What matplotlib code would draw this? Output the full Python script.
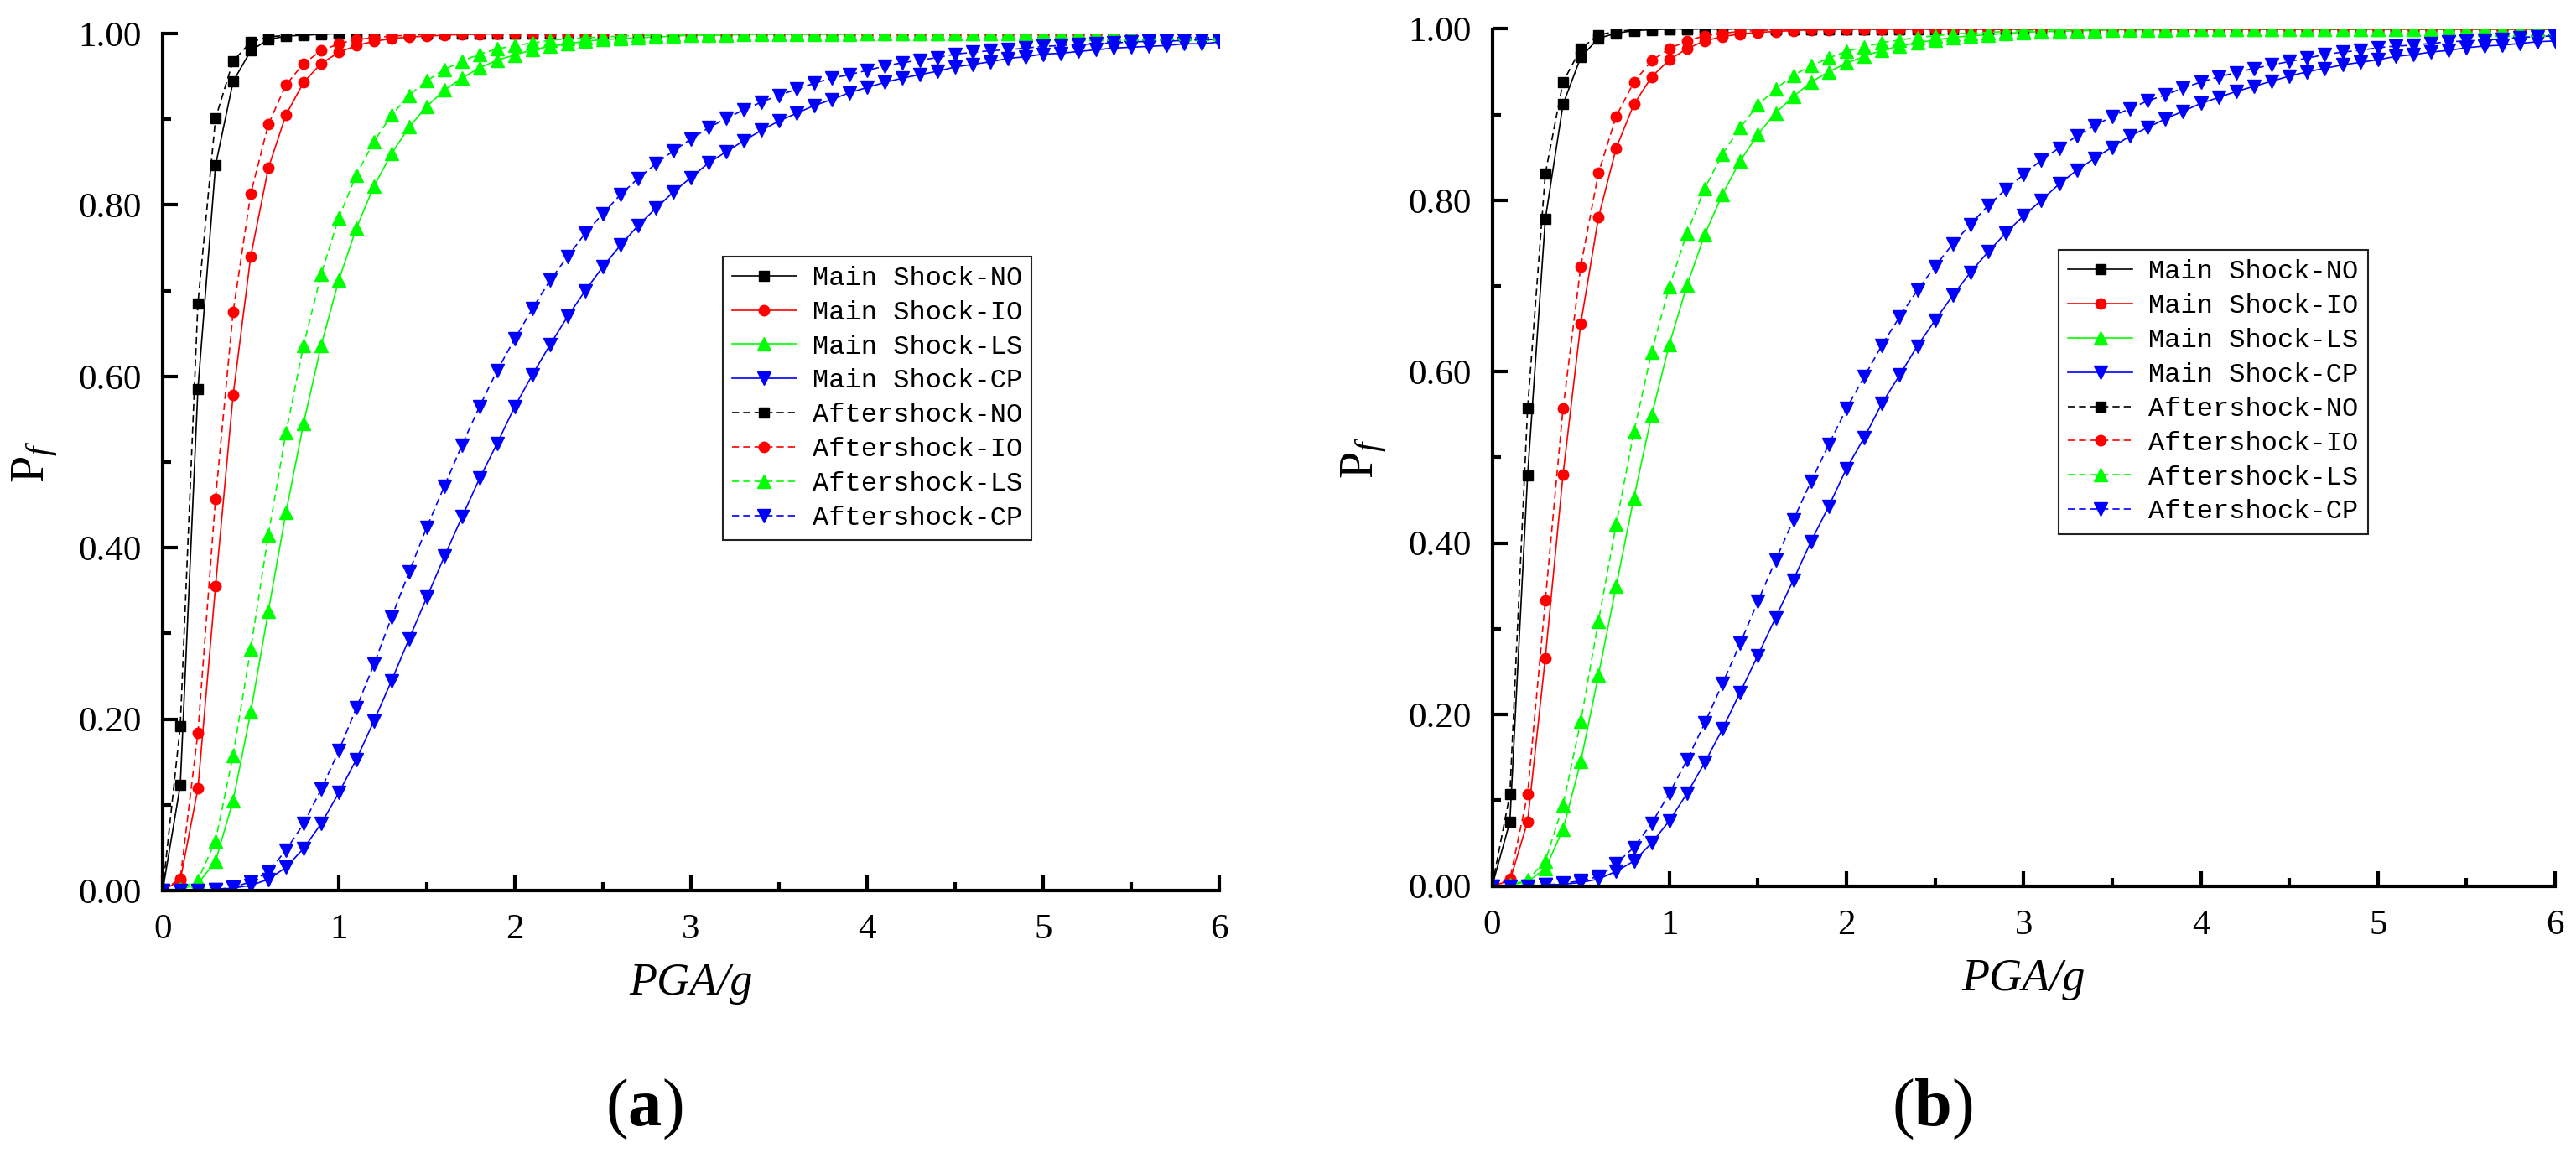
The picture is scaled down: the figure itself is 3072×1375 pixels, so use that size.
import numpy as np
import matplotlib
matplotlib.use("Agg")
import matplotlib.pyplot as plt
from matplotlib.ticker import MultipleLocator, FormatStrFormatter

plt.rcParams["mathtext.fontset"] = "custom"
plt.rcParams["mathtext.rm"] = "Liberation Serif"
plt.rcParams["mathtext.it"] = "Liberation Serif:italic"
plt.rcParams["mathtext.bf"] = "Liberation Serif:bold"

# PGA grid (g), step 0.1
pga = np.round(np.arange(61) * 0.1, 1)

# ---- panel (a) ----
a_ms_no = [0.0, 0.123, 0.585, 0.846, 0.944, 0.980, 0.993, 0.997, 0.998, 0.999] + [1.0] * 51
a_as_no = [0.0, 0.192, 0.685, 0.901, 0.968, 0.990, 0.996, 0.998, 0.999, 1.0] + [1.0] * 51
a_ms_io = [0.0, 0.012, 0.119, 0.355, 0.578, 0.740, 0.843, 0.905, 0.943, 0.965,
           0.978, 0.986, 0.991, 0.994, 0.996, 0.997, 0.998, 0.999, 0.999, 1.0] + [1.0] * 41
a_as_io = [0.0, 0.014, 0.184, 0.457, 0.675, 0.813, 0.894, 0.940, 0.965, 0.980,
           0.988, 0.993, 0.995, 0.997, 0.998, 0.999, 0.999, 1.0, 1.0, 1.0] + [1.0] * 41
a_ms_ls = [0.0, 0.001, 0.008, 0.034, 0.105, 0.208, 0.326, 0.441, 0.545, 0.636,
           0.712, 0.773, 0.822, 0.860, 0.891, 0.915, 0.934, 0.948, 0.960, 0.969,
           0.975, 0.981, 0.985, 0.988, 0.991, 0.993, 0.994, 0.995, 0.996, 0.997,
           0.998, 0.998, 0.998, 0.999, 0.999, 0.999, 0.999, 0.999, 0.999, 0.999] + [1.0] * 21
a_as_ls = [0.0, 0.002, 0.012, 0.058, 0.158, 0.282, 0.415, 0.534, 0.636, 0.719,
           0.785, 0.835, 0.874, 0.905, 0.928, 0.945, 0.958, 0.968, 0.976, 0.982,
           0.986, 0.989, 0.992, 0.994, 0.995, 0.996, 0.997, 0.998, 0.998, 0.999,
           0.999, 0.999, 0.999, 1.0, 1.0, 1.0, 1.0, 1.0, 1.0, 1.0] + [1.0] * 21
a_ms_cp = [0.0, 0.0, 0.0, 0.001, 0.003, 0.006, 0.013, 0.027, 0.049, 0.078,
           0.114, 0.153, 0.198, 0.245, 0.294, 0.342, 0.390, 0.436, 0.481, 0.522,
           0.565, 0.602, 0.637, 0.670, 0.700, 0.728, 0.753, 0.776, 0.796, 0.815,
           0.832, 0.849, 0.862, 0.875, 0.887, 0.898, 0.907, 0.916, 0.923, 0.931,
           0.937, 0.943, 0.948, 0.952, 0.956, 0.961, 0.964, 0.967, 0.971, 0.973,
           0.976, 0.977, 0.979, 0.981, 0.983, 0.984, 0.985, 0.986, 0.988, 0.988,
           0.990]
a_as_cp = [0.0, 0.0, 0.0, 0.001, 0.004, 0.010, 0.022, 0.047, 0.078, 0.118,
           0.163, 0.213, 0.264, 0.319, 0.372, 0.424, 0.472, 0.520, 0.565, 0.607,
           0.644, 0.679, 0.712, 0.740, 0.767, 0.790, 0.812, 0.831, 0.848, 0.863,
           0.877, 0.890, 0.901, 0.911, 0.920, 0.928, 0.935, 0.942, 0.948, 0.952,
           0.957, 0.962, 0.966, 0.969, 0.972, 0.976, 0.978, 0.980, 0.981, 0.983,
           0.985, 0.986, 0.987, 0.988, 0.989, 0.990, 0.991, 0.991, 0.992, 0.993,
           0.993]

# ---- panel (b) ----
b_ms_no = [0.0, 0.075, 0.479, 0.778, 0.912, 0.967, 0.989, 0.995, 0.998, 0.999] + [1.0] * 51
b_as_no = [0.0, 0.107, 0.557, 0.831, 0.938, 0.977, 0.993, 0.997, 0.999, 1.0] + [1.0] * 51
b_ms_io = [0.0, 0.006, 0.075, 0.266, 0.480, 0.656, 0.780, 0.861, 0.912, 0.944,
           0.964, 0.977, 0.986, 0.991, 0.994, 0.996, 0.997, 0.998, 0.999, 0.999] + [1.0] * 41
b_as_io = [0.0, 0.008, 0.107, 0.333, 0.557, 0.723, 0.832, 0.898, 0.938, 0.963,
           0.977, 0.986, 0.992, 0.995, 0.997, 0.998, 0.999, 0.999, 1.0, 1.0] + [1.0] * 41
b_ms_ls = [0.0, 0.001, 0.005, 0.020, 0.066, 0.145, 0.246, 0.350, 0.453, 0.549,
           0.632, 0.701, 0.760, 0.807, 0.846, 0.877, 0.902, 0.921, 0.938, 0.950,
           0.960, 0.968, 0.975, 0.980, 0.984, 0.987, 0.990, 0.992, 0.993, 0.995,
           0.996, 0.997, 0.997, 0.998, 0.998, 0.999, 0.999, 0.999, 0.999, 1.0] + [1.0] * 21
b_as_ls = [0.0, 0.001, 0.007, 0.029, 0.094, 0.192, 0.309, 0.422, 0.530, 0.623,
           0.699, 0.762, 0.814, 0.854, 0.885, 0.911, 0.930, 0.946, 0.957, 0.966,
           0.974, 0.979, 0.984, 0.987, 0.990, 0.992, 0.994, 0.995, 0.996, 0.997,
           0.998, 0.998, 0.999, 0.999, 0.999, 1.0, 1.0, 1.0, 1.0, 1.0] + [1.0] * 21
b_ms_cp = [0.0, 0.0, 0.0, 0.001, 0.002, 0.004, 0.008, 0.017, 0.029, 0.050,
           0.076, 0.108, 0.144, 0.183, 0.226, 0.269, 0.313, 0.357, 0.402, 0.443,
           0.487, 0.523, 0.563, 0.596, 0.630, 0.660, 0.689, 0.716, 0.740, 0.762,
           0.782, 0.800, 0.819, 0.835, 0.849, 0.862, 0.875, 0.885, 0.895, 0.904,
           0.913, 0.920, 0.927, 0.933, 0.939, 0.945, 0.950, 0.954, 0.958, 0.961,
           0.964, 0.968, 0.970, 0.973, 0.975, 0.978, 0.980, 0.981, 0.983, 0.985,
           0.986]
b_as_cp = [0.0, 0.0, 0.0, 0.001, 0.003, 0.006, 0.011, 0.026, 0.045, 0.073,
           0.108, 0.147, 0.190, 0.236, 0.283, 0.332, 0.380, 0.427, 0.472, 0.515,
           0.557, 0.594, 0.631, 0.664, 0.695, 0.723, 0.749, 0.772, 0.794, 0.813,
           0.830, 0.847, 0.861, 0.875, 0.887, 0.898, 0.907, 0.916, 0.923, 0.931,
           0.938, 0.944, 0.949, 0.954, 0.958, 0.962, 0.966, 0.970, 0.973, 0.975,
           0.978, 0.980, 0.981, 0.983, 0.985, 0.986, 0.987, 0.988, 0.990, 0.991,
           0.992]

labels = ["Main Shock-NO", "Main Shock-IO", "Main Shock-LS", "Main Shock-CP",
          "Aftershock-NO", "Aftershock-IO", "Aftershock-LS", "Aftershock-CP"]
colors = ["#000000", "#ff0000", "#00ff00", "#0000ff"] * 2
markers = ["s", "o", "^", "v"] * 2
msizes = [9, 9, 11, 11] * 2
styles = ["-"] * 4 + [(0, (5, 3))] * 4

panel_a = [a_ms_no, a_ms_io, a_ms_ls, a_ms_cp, a_as_no, a_as_io, a_as_ls, a_as_cp]
panel_b = [b_ms_no, b_ms_io, b_ms_ls, b_ms_cp, b_as_no, b_as_io, b_as_ls, b_as_cp]

W, H = 3072, 1375
fig = plt.figure(figsize=(W / 100, H / 100), dpi=100)

# axes boxes in pixels: left, right, bottom(from top), top(from top)
boxes = [(194, 1454, 1062, 40), (1779.5, 3047, 1056.5, 34.5)]
legend_anchor = [(0.530, 0.740), (0.533, 0.742)]
tags = ["a", "b"]

for k, (series_set, box) in enumerate(zip([panel_a, panel_b], boxes)):
    l, r, b, t = box
    ax = fig.add_axes([l / W, 1 - b / H, (r - l) / W, (b - t) / H])
    for vals, lab, c, m, ms, ls in zip(series_set, labels, colors, markers, msizes, styles):
        ax.plot(pga, vals, color=c, linestyle=ls, linewidth=1.2, marker=m,
                markersize=ms, markeredgecolor=c, markerfacecolor=c, label=lab)

    ax.set_xlim(0, 6)
    ax.set_ylim(0, 1)
    ax.spines["top"].set_visible(False)
    ax.spines["right"].set_visible(False)
    ax.spines["left"].set_linewidth(3)
    ax.spines["bottom"].set_linewidth(3)
    ax.xaxis.set_major_locator(MultipleLocator(1))
    ax.xaxis.set_minor_locator(MultipleLocator(0.5))
    ax.yaxis.set_major_locator(MultipleLocator(0.2))
    ax.yaxis.set_minor_locator(MultipleLocator(0.1))
    ax.yaxis.set_major_formatter(FormatStrFormatter("%.2f"))
    ax.tick_params(which="major", direction="in", length=13, width=3)
    ax.tick_params(which="minor", direction="in", length=7, width=3)
    ax.tick_params(axis="x", which="major", pad=20)
    ax.tick_params(axis="y", which="major", pad=18)
    for tl in ax.get_xticklabels() + ax.get_yticklabels():
        tl.set_fontfamily("Liberation Serif")
        tl.set_fontsize(31)

    leg = ax.legend(loc="upper left", bbox_to_anchor=legend_anchor[k], borderaxespad=0,
                    prop={"family": "Liberation Mono", "size": 23},
                    handlelength=2.4, handletextpad=0.6, labelspacing=0.34,
                    borderpad=0.35, fancybox=False, framealpha=1)
    leg.get_frame().set_edgecolor("#222222")
    leg.get_frame().set_linewidth(1.5)

    cx = (l + r) / 2
    fig.text(cx / W, 1 - (b + 111) / H, "PGA/g", fontfamily="Liberation Serif",
             fontstyle="italic", fontsize=39, ha="center", va="center")
    fig.text((l - 152) / W, 1 - ((b + t) / 2) / H, r"$\mathrm{P}_{f}$", fontsize=42,
             rotation=90, ha="center", va="center")
    fig.text((768 + 1536 * k) / W, 1 - 1322 / H, r"$(\mathbf{%s})$" % tags[k],
             fontsize=58, ha="center", va="center")

fig.savefig("out.png", dpi=100)
